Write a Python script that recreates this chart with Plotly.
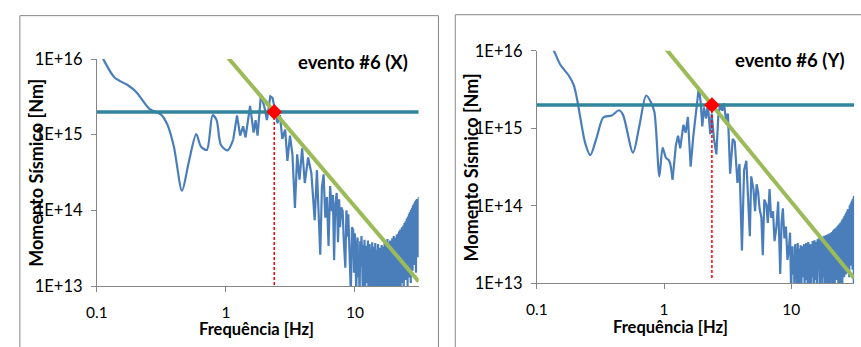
import plotly.graph_objects as go

# ---------------- data (frequency in Hz, seismic moment in Nm) ----------------
# event #6, component X : low/mid-frequency part
freq_x = [0.100, 0.112, 0.137, 0.174, 0.201, 0.255, 0.313, 0.352, 0.395, 0.457,
          0.515, 0.589, 0.640, 0.711, 0.789, 0.847, 0.916, 1.03, 1.14, 1.22,
          1.29, 1.36, 1.42, 1.54, 1.64, 1.70, 1.76, 1.87, 1.99, 2.08,
          2.21, 2.30, 2.41, 2.51, 2.62, 2.74, 2.88, 3.00, 3.14, 3.28,
          3.43, 3.57, 3.72, 3.90, 4.09, 4.34, 4.60, 4.88, 5.08, 5.39,
          5.55, 5.72, 5.90, 6.07, 6.25, 6.43, 6.62, 6.75, 6.90, 7.05,
          7.23, 7.40, 7.55, 7.67, 7.85, 8.04, 8.20, 8.43, 8.60, 8.75,
          8.89, 9.10, 9.30, 9.50, 9.70, 9.85]
moment_x = [1.5e16, 1.0e16, 5.7e15, 4.5e15, 3.7e15, 2.2e15, 1.86e15, 1.36e15, 7.0e14, 1.82e14,
            4.3e14, 1.02e15, 7.0e14, 6.3e14, 1.81e15, 1.56e15, 7.3e14, 6.2e14, 8.6e14, 1.8e15,
            9.7e14, 1.29e15, 9.2e14, 2.4e15, 1.07e15, 1.56e15, 9.7e14, 3.4e15, 2.3e15, 1.56e15,
            3.2e15, 3.06e15, 2.08e15, 1.42e15, 1.81e15, 8.8e14, 1.17e15, 4.5e14, 9.7e14, 5.5e14,
            1.08e14, 5.5e14, 2.55e14, 6.6e14, 2.3e14, 5.0e14, 3.1e14, 7.4e13, 3.4e14, 2.6e13,
            2.0e14, 3.0e14, 8.0e13, 1.5e14, 3.4e13, 2.1e14, 9.8e13, 1.6e14, 2.2e13, 1.2e14,
            1.7e14, 3.8e13, 1.4e14, 6.0e13, 1.1e14, 9.8e13, 4.0e13, 1.75e13, 1.0e14, 4.5e13,
            8.9e13, 2.5e13, 8.0e12, 6.0e13, 5.5e13, 1.5e13]

# event #6, component Y : low/mid-frequency part
freq_y = [0.120, 0.136, 0.153, 0.178, 0.195, 0.207, 0.220, 0.240, 0.263, 0.296,
          0.333, 0.387, 0.443, 0.476, 0.570, 0.643, 0.723, 0.790, 0.840, 0.919,
          0.975, 1.035, 1.10, 1.167, 1.24, 1.29, 1.34, 1.42, 1.48, 1.54,
          1.62, 1.70, 1.75, 1.80, 1.88, 1.94, 2.00, 2.06, 2.14, 2.21,
          2.31, 2.37, 2.47, 2.58, 2.67, 2.76, 2.87, 2.96, 3.07, 3.18,
          3.31, 3.47, 3.60, 3.78, 3.92, 4.10, 4.26, 4.44, 4.62, 4.73,
          4.85, 5.05, 5.20, 5.35, 5.50, 5.65, 5.83, 5.98, 6.15, 6.38,
          6.55, 6.76, 6.95, 7.20, 7.40, 7.66, 7.90, 8.05, 8.20, 8.40,
          8.60, 8.85, 9.10, 9.35, 9.60, 9.80]
moment_y = [1.4e16, 1.0e16, 6.6e15, 4.8e15, 3.6e15, 2.37e15, 1.35e15, 6.4e14, 4.5e14, 7.7e14,
            1.38e15, 1.46e15, 1.71e15, 1.49e15, 4.85e14, 1.12e15, 2.65e15, 2.16e15, 1.62e15, 2.4e14,
            5.6e14, 4.17e14, 3.8e14, 2.17e14, 6.07e14, 8.0e14, 5.5e14, 1.11e15, 8.8e14, 1.4e15,
            3.2e14, 8.0e14, 1.28e15, 1.86e15, 3.4e15, 2.2e15, 1.06e15, 1.86e15, 1.34e15, 2.04e15,
            8.4e14, 1.55e15, 7.3e14, 4.6e14, 1.4e15, 2.04e15, 1.69e15, 2.1e15, 1.28e15, 1.55e15,
            2.6e14, 7.3e14, 6.7e14, 1.98e14, 3.47e14, 2.66e13, 2.87e14, 3.8e14, 1.13e14, 4.05e13,
            2.4e14, 1.64e14, 8.5e13, 1.9e14, 1.5e14, 9.0e13, 7.1e13, 2.3e13, 1.2e14, 1.03e14,
            6.0e13, 1.64e14, 7.0e13, 8.5e13, 3.5e13, 5.4e13, 1.13e14, 4.0e13, 1.32e13, 6.0e13,
            9.3e13, 3.8e13, 5.4e13, 2.0e13, 2.8e13, 4.5e13]

# high-frequency (noisy) part, common FFT frequency grid (Hz)
hf_freq = [10.0, 10.125, 10.25, 10.375, 10.5, 10.625, 10.75, 10.875, 11.0, 11.125,
           11.25, 11.375, 11.5, 11.625, 11.75, 11.875, 12.0, 12.125, 12.25, 12.375,
           12.5, 12.625, 12.75, 12.875, 13.0, 13.125, 13.25, 13.375, 13.5, 13.625,
           13.75, 13.875, 14.0, 14.125, 14.25, 14.375, 14.5, 14.625, 14.75, 14.875,
           15.0, 15.125, 15.25, 15.375, 15.5, 15.625, 15.75, 15.875, 16.0, 16.125,
           16.25, 16.375, 16.5, 16.625, 16.75, 16.875, 17.0, 17.125, 17.25, 17.375,
           17.5, 17.625, 17.75, 17.875, 18.0, 18.125, 18.25, 18.375, 18.5, 18.625,
           18.75, 18.875, 19.0, 19.125, 19.25, 19.375, 19.5, 19.625, 19.75, 19.875,
           20.0, 20.125, 20.25, 20.375, 20.5, 20.625, 20.75, 20.875, 21.0, 21.125,
           21.25, 21.375, 21.5, 21.625, 21.75, 21.875, 22.0, 22.125, 22.25, 22.375,
           22.5, 22.625, 22.75, 22.875, 23.0, 23.125, 23.25, 23.375, 23.5, 23.625,
           23.75, 23.875, 24.0, 24.125, 24.25, 24.375, 24.5, 24.625, 24.75, 24.875,
           25.0, 25.125, 25.25, 25.375, 25.5, 25.625, 25.75, 25.875, 26.0, 26.125,
           26.25, 26.375, 26.5, 26.625, 26.75, 26.875, 27.0, 27.125, 27.25, 27.375,
           27.5, 27.625, 27.75, 27.875, 28.0, 28.125, 28.25, 28.375, 28.5, 28.625,
           28.75, 28.875, 29.0, 29.125, 29.25, 29.375, 29.5, 29.625, 29.75, 29.875,
           30.0, 30.125, 30.25, 30.375, 30.5, 30.625, 30.75, 30.875, 31.0, 31.125,
           31.25]
# moments on that grid, in units of 1e13 Nm
hf_x = [5.0, 2.1, 0.8, 3.2, 4.4, 1.3, 2.6, 0.7, 3.9, 1.8,
        4.6, 2.4, 0.9, 3.5, 1.5, 4.1, 0.6, 2.8, 3.4, 1.1,
        2.2, 4.0, 0.7, 1.9, 3.6, 2.5, 0.8, 3.1, 1.4, 3.8,
        0.6, 2.7, 3.3, 1.6, 0.9, 3.7, 2.0, 1.2, 3.0, 0.7,
        2.4, 3.6, 1.3, 2.9, 0.6, 3.2, 1.9, 2.5, 0.8, 3.5,
        1.5, 2.8, 0.7, 3.3, 2.2, 1.0, 3.9, 1.7, 2.6, 0.8,
        3.6, 2.0, 1.2, 4.2, 0.7, 2.9, 1.6, 3.8, 2.3, 0.9,
        4.0, 1.4, 2.7, 0.8, 3.5, 2.1, 4.3, 1.0, 2.9, 1.8,
        4.6, 0.8, 2.6, 3.7, 1.5, 4.4, 0.9, 3.1, 2.2, 4.8,
        1.3, 3.4, 0.7, 4.9, 2.4, 1.6, 5.3, 1.0, 3.6, 2.0,
        5.6, 0.9, 3.2, 4.4, 1.7, 6.0, 2.6, 1.1, 4.8, 2.0,
        6.3, 0.8, 3.8, 2.5, 6.8, 1.4, 4.5, 2.9, 7.2, 1.2,
        5.0, 3.0, 7.8, 1.8, 4.6, 0.9, 8.3, 3.4, 5.8, 2.2,
        9.0, 1.3, 6.2, 3.6, 9.6, 2.0, 5.4, 1.1, 10.2, 3.9,
        7.0, 2.4, 10.8, 4.4, 1.6, 11.5, 5.8, 2.8, 12.0, 1.9,
        7.6, 4.0, 12.6, 2.3, 8.8, 13.2, 3.6, 6.4, 1.5, 13.8,
        5.2, 9.5, 2.6, 14.2, 4.8, 10.5, 3.2, 14.8, 2.4, 11.5,
        15.0]
hf_y = [0.7, 2.4, 3.0, 1.3, 2.0, 0.8, 3.2, 1.7, 2.6, 0.9,
        3.3, 2.1, 1.0, 2.8, 1.5, 3.1, 0.6, 2.3, 3.0, 1.2,
        2.0, 3.2, 0.8, 2.6, 1.7, 3.3, 1.1, 2.4, 0.7, 3.4,
        1.9, 2.8, 1.0, 3.2, 2.2, 0.7, 2.9, 1.5, 3.5, 1.2,
        2.5, 0.8, 3.6, 1.8, 2.9, 1.1, 3.4, 2.3, 0.7, 3.7,
        1.6, 2.7, 3.8, 1.0, 2.4, 0.8, 3.9, 2.0, 1.4, 3.6,
        2.6, 0.9, 4.0, 1.8, 3.1, 1.2, 4.1, 2.4, 0.8, 3.5,
        2.0, 4.2, 1.3, 2.9, 0.9, 4.3, 2.6, 1.6, 3.8, 1.0,
        4.4, 2.2, 3.3, 0.8, 4.5, 1.9, 3.0, 1.2, 4.6, 2.7,
        1.0, 4.8, 2.3, 3.6, 1.4, 5.0, 0.8, 3.2, 5.1, 1.8,
        3.9, 2.6, 5.3, 1.1, 4.2, 2.0, 5.5, 3.0, 0.9, 5.7,
        2.4, 4.5, 1.5, 5.9, 3.3, 1.0, 6.1, 2.7, 4.8, 1.7,
        6.4, 3.6, 0.9, 6.7, 2.6, 5.2, 1.6, 7.0, 3.9, 1.2,
        7.4, 2.9, 5.7, 1.8, 7.8, 4.1, 1.3, 8.2, 3.3, 6.1,
        2.0, 8.7, 4.4, 1.5, 9.1, 3.6, 6.6, 2.3, 9.6, 1.2,
        4.8, 10.1, 2.6, 7.2, 1.7, 10.6, 4.0, 2.0, 11.1, 5.2,
        2.9, 11.6, 7.8, 1.5, 12.2, 4.4, 8.5, 2.4, 12.8, 0.8,
        13.5]
HF_UNIT = 1e13

# spectral model parameters (plateau level and corner frequency)
plateau = 2e15
corner_x = 2.37
corner_y = 2.38
fit_freqs = [0.9, 31.25]
level_freqs = [0.1, 31.25]
axis_floor = 1e13
dash_floor_y = 1.12e13
smooth_limit = 1.1   # below this frequency the spectrum is drawn smoothed

titles = ["evento #6 (X)", "evento #6 (Y)"]
y_tickvals = [1e13, 1e14, 1e15, 1e16]
y_ticktext = ["1E+13", "1E+14", "1E+15", "1E+16"]
x_tickvals = [0.1, 1, 10]
x_ticktext = ["0.1", "1", "10"]

# ---------------- styling ----------------
W, H = 861, 347
FONT = "Lato, Carlito, Calibri, sans-serif"
BLUE = "#4A7EBB"
TEAL = "#31859C"
GREEN = "#9BBB59"
RED = "#FF0000"
GRAY = "#868686"

# plot-area boxes in pixels: (left, right, top, bottom)
boxes = [(87, 413, 52, 293), (532.7, 854, 43.3, 290)]


def px_x(p):
    return p / W


def px_y(p):
    return 1 - p / H


fig = go.Figure()

panels = [
    (freq_x + hf_freq, moment_x + [v * HF_UNIT for v in hf_x], corner_x, axis_floor),
    (freq_y + hf_freq, moment_y + [v * HF_UNIT for v in hf_y], corner_y, dash_floor_y),
]

for i, (fr, mo, fc, dfloor) in enumerate(panels):
    xa = "x" if i == 0 else "x2"
    ya = "y" if i == 0 else "y2"
    n_s = sum(1 for f in fr if f <= smooth_limit)
    # smoothed low-frequency part
    fig.add_trace(go.Scatter(x=fr[:n_s + 1], y=mo[:n_s + 1], mode="lines", xaxis=xa, yaxis=ya,
                             line=dict(color=BLUE, width=2.2, shape="spline", smoothing=0.8),
                             showlegend=False, hoverinfo="skip"))
    # jagged higher-frequency part
    fig.add_trace(go.Scatter(x=fr[n_s:], y=mo[n_s:], mode="lines", xaxis=xa, yaxis=ya,
                             line=dict(color=BLUE, width=2.2),
                             showlegend=False, hoverinfo="skip"))
    fig.add_trace(go.Scatter(x=level_freqs, y=[plateau, plateau], mode="lines", xaxis=xa, yaxis=ya,
                             line=dict(color=TEAL, width=3.5), showlegend=False, hoverinfo="skip"))
    fit_vals = [plateau * (fc / f) ** 2 for f in fit_freqs]
    fig.add_trace(go.Scatter(x=fit_freqs, y=fit_vals, mode="lines", xaxis=xa, yaxis=ya,
                             line=dict(color=GREEN, width=4), showlegend=False, hoverinfo="skip"))
    fig.add_trace(go.Scatter(x=[fc, fc], y=[plateau, dfloor], mode="lines", xaxis=xa, yaxis=ya,
                             line=dict(color=RED, width=1.5, dash="3px,2px"),
                             showlegend=False, hoverinfo="skip"))
    fig.add_trace(go.Scatter(x=[fc], y=[plateau], mode="markers", xaxis=xa, yaxis=ya,
                             marker=dict(symbol="diamond", size=12, color=RED),
                             showlegend=False, hoverinfo="skip"))

axis_common = dict(type="log", showgrid=False, zeroline=False, showline=True,
                   linecolor=GRAY, linewidth=1, ticks="outside", ticklen=5,
                   tickcolor=GRAY, tickwidth=1)

layout = dict(width=W, height=H, margin=dict(l=0, r=0, t=0, b=0),
              paper_bgcolor="white", plot_bgcolor="white", showlegend=False)

for i, (l, r, t, b) in enumerate(boxes):
    sx = "" if i == 0 else "2"
    layout["xaxis" + sx] = dict(axis_common, domain=[px_x(l), px_x(r)], range=[-1, 1.4949],
                                tickvals=x_tickvals, ticktext=x_ticktext,
                                anchor="y" + sx, ticklabelstandoff=7,
                                tickfont=dict(family=FONT, size=15.5, color="#000"))
    layout["yaxis" + sx] = dict(axis_common, domain=[px_y(b), px_y(t)], range=[13, 16],
                                tickvals=y_tickvals, ticktext=y_ticktext,
                                anchor="x" + sx, ticklabelstandoff=5,
                                tickfont=dict(family=FONT, size=16.5, color="#000"))

fig.update_layout(**layout)

# panel frames
frames = [(9, 433, 6, 360), (450, 875, 5, 360)]
for (l, r, t, b) in frames:
    fig.add_shape(type="rect", xref="paper", yref="paper",
                  x0=px_x(l), x1=px_x(r), y0=px_y(b), y1=px_y(t),
                  line=dict(color=GRAY, width=1), fillcolor="rgba(0,0,0,0)", layer="below")

# text labels
ann = [
    (titles[0], 346.7, 55, 0, 18.5),
    (titles[1], 789.5, 53.3, 0, 18.5),
    ("Frequência [Hz]", 249, 338, 0, 16.5),
    ("Frequência [Hz]", 667.6, 336.5, 0, 16.5),
    ("Momento Sísmico [Nm]", 24.5, 172.5, -90, 18),
    ("Momento Sísmico [Nm]", 465.5, 167.5, -90, 18),
]
for text, x, y, ang, sz in ann:
    fig.add_annotation(text="<b>%s</b>" % text, xref="paper", yref="paper",
                       x=px_x(x), y=px_y(y), xanchor="center", yanchor="middle",
                       showarrow=False, textangle=ang, borderpad=0,
                       font=dict(family=FONT, size=sz, color="#000"))

fig.write_html("out.html", post_script="document.body.style.margin='0';")
